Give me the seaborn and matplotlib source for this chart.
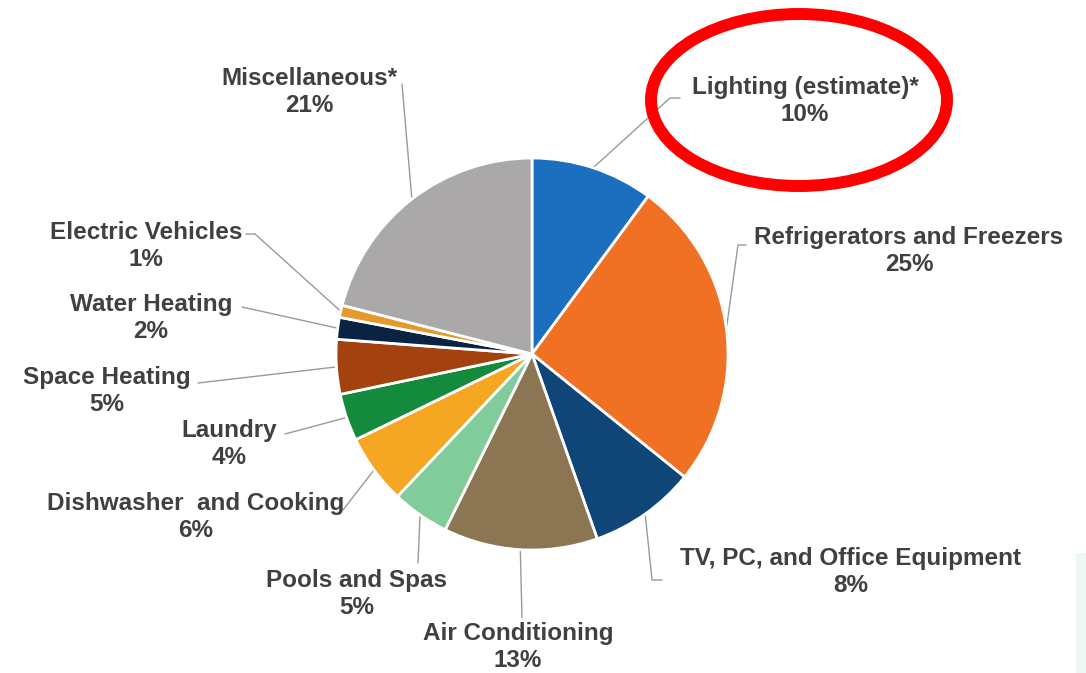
import numpy as np
import matplotlib
matplotlib.use("Agg")
import matplotlib.pyplot as plt
from matplotlib.patches import Ellipse, Rectangle
import seaborn as sns


# data: share of residential electricity use, clockwise from 12 o'clock
categories = [
    "Lighting (estimate)*", "Refrigerators and Freezers", "TV, PC, and Office Equipment",
    "Air Conditioning", "Pools and Spas", "Dishwasher  and Cooking", "Laundry",
    "Space Heating", "Water Heating", "Electric Vehicles", "Miscellaneous*",
]
shares = [10.1, 25.7, 8.8, 12.7, 4.75, 5.75, 3.9, 4.5, 1.8, 1.0, 21.0]
pct_labels = ["10%", "25%", "8%", "13%", "5%", "6%", "4%", "5%", "2%", "1%", "21%"]
colors = [
    "#1c6fbe", "#f07124", "#0f4677", "#8c7552", "#80cc9a", "#f5a623",
    "#138a3c", "#a3420e", "#0b2342", "#e39a2b", "#aaa8a8",
]

# layout (pixels from top-left of a 1086x673 canvas)
W, H = 1086, 673
label_xy = [
    (805, 101), (909, 251), (851, 572), (518, 647), (357, 594), (196, 517),
    (229, 444), (107, 391), (151, 318), (146, 246), (309, 92),
]
leader_ends = [
    [(670, 98), (680, 98)], [(738, 245), (746, 245)], [(652, 580), (662, 580)],
    [(522, 618)], [(418, 563)], [(343, 510)], [(285, 434)], [(198, 383)],
    [(242, 307)], [(255, 234), (246, 234)], [(402, 84)],
]

sns.set_theme(style="white")
plt.rcParams["font.family"] = ["Liberation Sans", "DejaVu Sans"]

fig = plt.figure(figsize=(W / 100, H / 100), dpi=100)
ax = fig.add_axes([0, 0, 1, 1])

wedges, _ = ax.pie(
    shares, colors=colors, startangle=90, counterclock=False,
    center=(532, H - 354), radius=196,
    wedgeprops=dict(edgecolor="white", linewidth=2),
)

# leader lines and labels
for w, name, pct, (lx, ly), ends in zip(wedges, categories, pct_labels, label_xy, leader_ends):
    mid = np.deg2rad((w.theta1 + w.theta2) / 2)
    cx, cy = w.center
    xs = [cx + w.r * np.cos(mid)] + [p[0] for p in ends]
    ys = [cy + w.r * np.sin(mid)] + [H - p[1] for p in ends]
    ax.plot(xs, ys, color="#9a9a9a", lw=1, zorder=0)
    ax.text(lx, H - ly, f"{name}\n{pct}", ha="center", va="center",
            fontsize=17.5, fontweight="bold", color="#404040", linespacing=1.18)

# red highlight ring around the lighting label
ax.add_patch(Ellipse((799, H - 100), 296, 172, fill=False, edgecolor="#ff0000", lw=8.6))
ax.add_patch(Rectangle((1076, 0), 10, H - 553, color="#eef7f3", lw=0))

ax.set_xlim(0, W)
ax.set_ylim(0, H)
ax.set_aspect("equal")
ax.axis("off")
fig.savefig("out.png", dpi=100)
